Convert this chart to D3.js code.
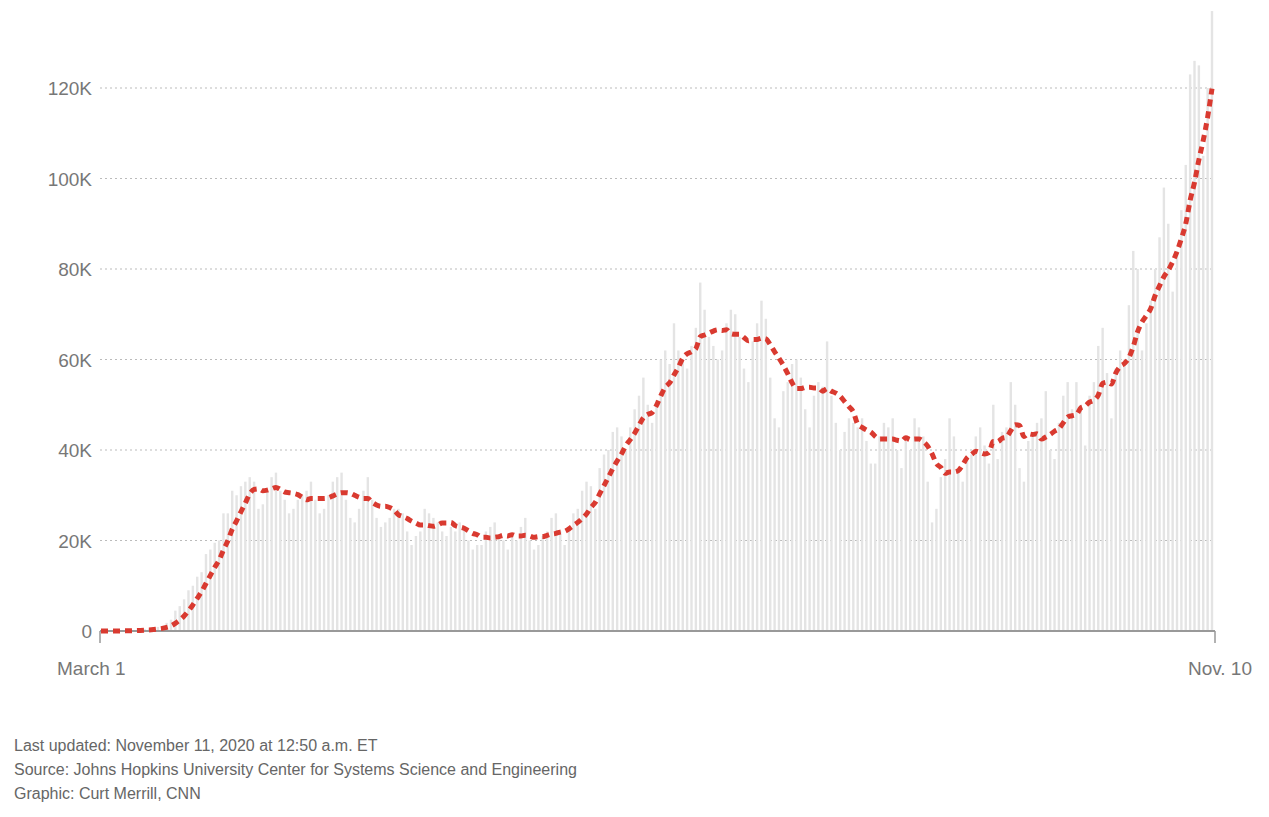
<!DOCTYPE html>
<html><head><meta charset="utf-8">
<script src="https://cdn.jsdelivr.net/npm/d3@7"></script>
<style>body{margin:0;background:#fff;font-family:"Liberation Sans",Arial,sans-serif}</style>
</head><body><svg id="c" width="1269" height="817"></svg>
<script>
// daily new cases (thousands), March 1 – Nov 10, 2020
const march=[0,0,0.02,0.03,0.05,0.08,0.1,0.1,0.2,0.3,0.4,0.5,0.7,0.9,1.0,1.8,2.5,4.5,5.5,7,9,10,12,13,17,18,19.5,20,26,26,31];
const april=[30,32,33,34,33,27,28,31,34,35,31,29,26,27,29,30,31,33,29,26,27,30,33,34,35,29,25,24,27,31];
const may=[34,29,25,23,24,25,27,27,26,22,19,21,22,27,26,25,24,22,21,23,22,24,23,20,18,19,19,22,23,24,21];
const june=[20,18,21,20,23,25,20,18,19,21,22,25,26,22,19,23,26,27,31,33,32,27,36,39,40,44,45,43,40,45];
const july=[49,52,56,50,46,51,60,62,59,68,62,60,58,63,67,77,71,65,63,60,62,68,71,70,65,58,55,64,68,73,69];
const august=[56,47,45,53,55,59,60,56,49,45,52,55,54,64,52,46,40,44,47,46,45,47,42,37,37,43,46,45,47,40,36];
const september=[42,40,47,45,43,33,24,27,34,38,47,43,35,33,38,39,43,45,41,37,50,38,44,45,55,50,36,33,42,43];
const october=[46,47,53,40,38,46,52,55,49,55,50,41,52,55,63,67,57,47,58,62,60,72,84,80,62,68,73,80,87,98,90];
const november=[75,84,93,103,123,126,125,105,120,137];
const yTicks=[0,20,40,60,80,100,120];
const tickLabels=["0","20K","40K","60K","80K","100K","120K"];
const xLabels=["March 1","Nov. 10"];
const footer=["Last updated: November 11, 2020 at 12:50 a.m. ET","Source: Johns Hopkins University Center for Systems Science and Engineering","Graphic: Curt Merrill, CNN"];

const values=[...march,...april,...may,...june,...july,...august,...september,...october,...november].map(v=>v*1000);
const start=new Date(2020,2,1);
const data=values.map((v,i)=>({d:d3.timeDay.offset(start,i),v}));
const avg=data.map((p,i)=>({d:p.d,v:d3.mean(values.slice(Math.max(0,i-6),i+1))}));

const svg=d3.select("#c");
const L=100,R=1215,T=88,B=631;
const x=d3.scaleTime().domain([start,data[data.length-1].d]).range([L+1,R-3]);
const y=d3.scaleLinear().domain([0,120000]).range([B,T]);

svg.append("g").selectAll("line").data(yTicks.slice(1)).join("line")
 .attr("x1",L).attr("x2",R).attr("y1",d=>y(d*1000)).attr("y2",d=>y(d*1000))
 .attr("stroke","#bbb").attr("stroke-dasharray","2,3");
svg.append("g").selectAll("text").data(yTicks).join("text")
 .attr("x",92).attr("y",d=>y(d*1000)+7).attr("text-anchor","end")
 .attr("font-size",19).attr("fill","#777").text((d,i)=>tickLabels[i]);

svg.append("g").selectAll("rect").data(data).join("rect")
 .attr("x",d=>x(d.d)-1.2).attr("width",2.4)
 .attr("y",d=>y(d.v)).attr("height",d=>B-y(d.v)).attr("fill","#e4e4e4");

svg.append("line").attr("x1",L).attr("x2",R).attr("y1",B).attr("y2",B).attr("stroke","#999").attr("stroke-width",2);
[L,R].forEach(px=>svg.append("line").attr("x1",px).attr("x2",px).attr("y1",B).attr("y2",B+12).attr("stroke","#999").attr("stroke-width",1.5));
svg.append("text").attr("x",57).attr("y",675).attr("font-size",19).attr("fill","#777").text(xLabels[0]);
svg.append("text").attr("x",1252).attr("y",675).attr("text-anchor","end").attr("font-size",19).attr("fill","#777").text(xLabels[1]);

svg.append("path").datum(avg)
 .attr("d",d3.line().x(d=>x(d.d)).y(d=>y(d.v)).curve(d3.curveMonotoneX))
 .attr("fill","none").attr("stroke","#d93a30").attr("stroke-width",5).attr("stroke-dasharray","7,5");

svg.append("g").selectAll("text").data(footer).join("text")
 .attr("x",14).attr("y",(d,i)=>751+i*24).attr("font-size",16).attr("fill","#666").text(d=>d);
</script></body></html>
